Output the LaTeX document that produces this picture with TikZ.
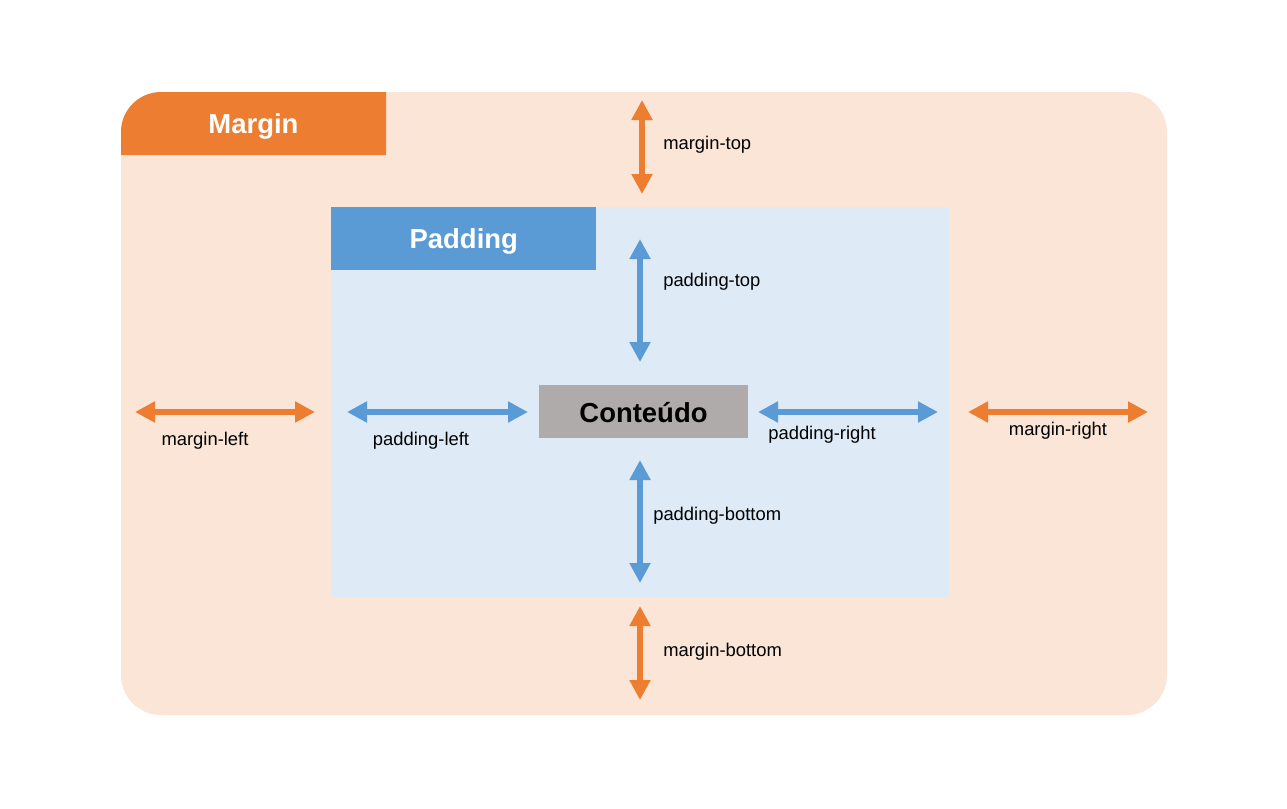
\documentclass[tikz,border=0pt]{standalone}
\usepackage{fontspec}
\setmainfont{Liberation Sans}
\usetikzlibrary{arrows.meta}
\definecolor{morange}{HTML}{ED7D31}
\definecolor{mlight}{HTML}{FBE5D6}
\definecolor{pblue}{HTML}{5B9BD5}
\definecolor{plight}{HTML}{DEEBF7}
\definecolor{cgrey}{HTML}{AFABAB}
\begin{document}
\begin{tikzpicture}[x=0.75pt,y=-0.75pt,
  dimlabel/.style={font=\fontsize{13.8pt}{16pt}\selectfont, inner sep=0pt},
  biglabel/.style={font=\fontsize{20.6pt}{24pt}\selectfont\bfseries},
  marrow/.style={draw=morange, line width=4.8pt, {Triangle[width=15pt,length=15pt]}-{Triangle[width=15pt,length=15pt]}},
  parrow/.style={draw=pblue, line width=4.8pt, {Triangle[width=15pt,length=15pt]}-{Triangle[width=15pt,length=15pt]}}]
\useasboundingbox (0,0) rectangle (1287,808);
% outer margin area
\fill[mlight, rounded corners=30pt] (121,92) rectangle (1167,715);
\fill[morange] (121,155) [rounded corners=30pt] -- (121,92) [sharp corners] -- (386,92) -- (386,155) -- cycle;
\node[biglabel, text=white] (mtitle) at (253.5,126.5) {Margin};
% padding area
\node[fill=plight, minimum width=618*0.75pt, minimum height=390*0.75pt, inner sep=0pt] (pad) at (640,402) {};
\node[fill=pblue, minimum width=265*0.75pt, minimum height=63*0.75pt, inner sep=0pt, anchor=north west] (ptitle) at (331,207) {};
\node[biglabel, text=white] at ([yshift=-2.25pt]ptitle.center) {Padding};
% content
\node[fill=cgrey, minimum width=209*0.75pt, minimum height=53*0.75pt, inner sep=0pt, biglabel] (content) at (643.5,411.5) {};
\node[biglabel] at ([yshift=-1pt]content.center) {Conteúdo};
% arrow endpoints
\coordinate (mt1) at (642,100); \coordinate (mt2) at (642,194);
\coordinate (mb1) at (640,606); \coordinate (mb2) at (640,700);
\coordinate (pt1) at (640,239); \coordinate (pt2) at (640,362);
\coordinate (pb1) at (640,460); \coordinate (pb2) at (640,583);
\coordinate (ml1) at (135,412); \coordinate (ml2) at (315,412);
\coordinate (pl1) at (347,412); \coordinate (pl2) at (528,412);
\coordinate (pr1) at (758,412); \coordinate (pr2) at (938,412);
\coordinate (mr1) at (968,412); \coordinate (mr2) at (1148,412);
\draw[marrow] (mt1) -- (mt2);
\draw[marrow] (mb1) -- (mb2);
\draw[parrow] (pt1) -- (pt2);
\draw[parrow] (pb1) -- (pb2);
\draw[marrow] (ml1) -- (ml2);
\draw[parrow] (pl1) -- (pl2);
\draw[parrow] (pr1) -- (pr2);
\draw[marrow] (mr1) -- (mr2);
% labels
\node[dimlabel, anchor=west] (lmt) at (663,145) {margin-top};
\node[dimlabel, anchor=west] (lpt) at (663,282) {padding-top};
\node[dimlabel, anchor=west] (lpb) at (653,516) {padding-bottom};
\node[dimlabel, anchor=west] (lmb) at (663,652) {margin-bottom};
\node[dimlabel] (lml) at (205,441) {margin-left};
\node[dimlabel] (lpl) at (421,441) {padding-left};
\node[dimlabel] (lpr) at (822,435) {padding-right};
\node[dimlabel] (lmr) at (1058,431) {margin-right};
\end{tikzpicture}
\end{document}
